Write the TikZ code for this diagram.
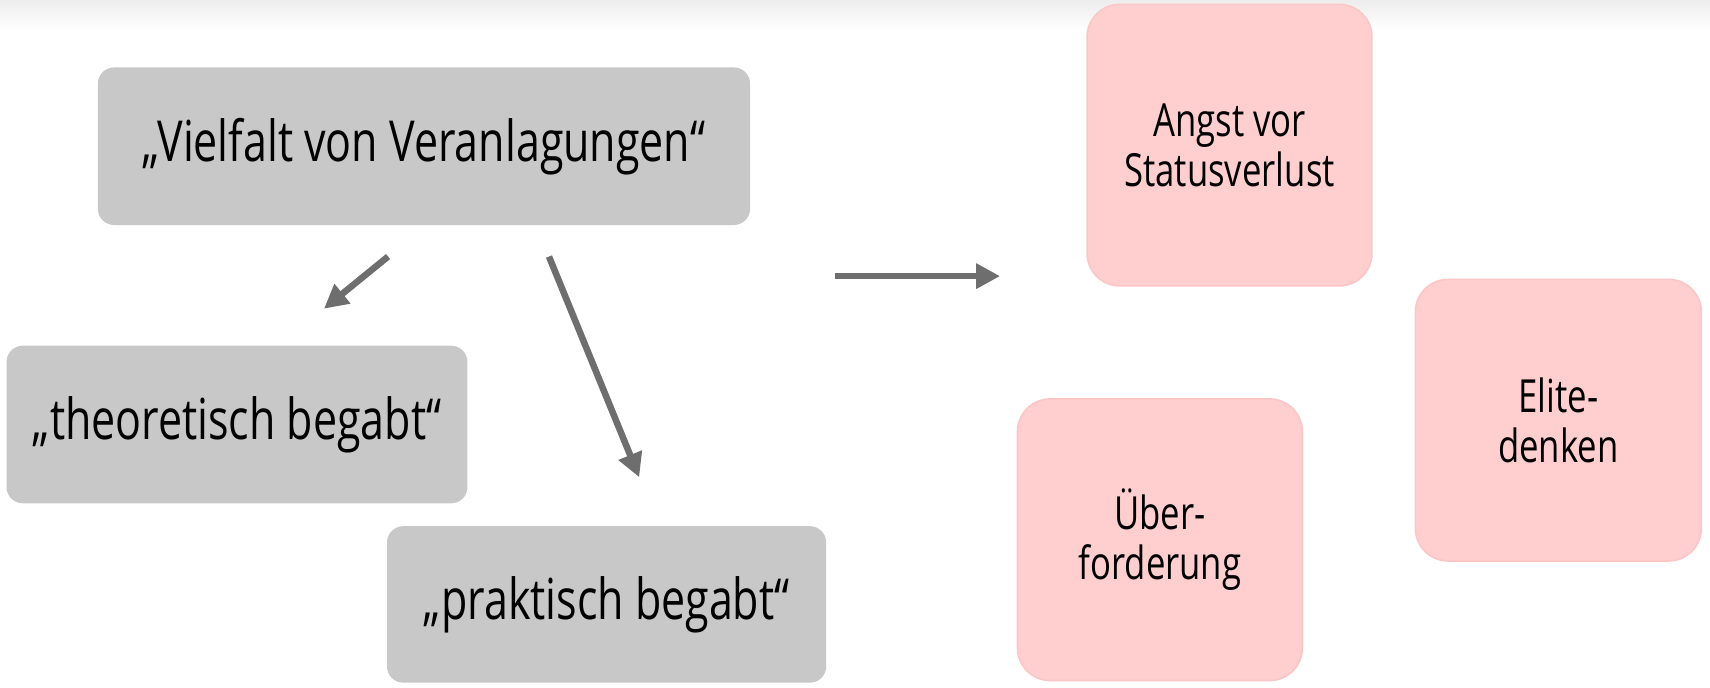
\documentclass[tikz,border=0pt]{standalone}
\usepackage{fontspec}
\setmainfont[FakeStretch=0.76]{Open Sans}
\usepackage{xcolor}
\usetikzlibrary{arrows.meta,positioning,calc}

\definecolor{boxgrey}{HTML}{C8C8C8}
\definecolor{boxpink}{HTML}{FFCFCF}
\definecolor{pinkline}{HTML}{FCC6C6}
\definecolor{arrowgrey}{HTML}{6E6E6E}

\begin{document}
\begin{tikzpicture}[x=1pt,y=-1pt,
	->,>={Triangle[length=22pt,width=22pt]},
	line width=6pt, draw=arrowgrey]

	\tikzstyle{grey box}=[rectangle, rounded corners=15pt,
	fill=boxgrey, draw=none, inner sep=0pt, text=black,
	font=\fontsize{52}{56}\selectfont]

	\tikzstyle{pink box}=[rectangle, rounded corners=30pt,
	minimum width=262pt, minimum height=259pt, inner sep=0pt,
	fill=boxpink, draw=pinkline, line width=1.5pt, text=black,
	align=center, font=\fontsize{42}{46}\selectfont]

	\useasboundingbox (0,0) rectangle (1573,632);
	\shade[top color=black!7, bottom color=white, draw=none] (0,0) rectangle (1573,28);

	%left side
	\node[grey box, minimum width=600pt, minimum height=145pt]
	(vielfalt) at (390,134.5)
	{„Vielfalt von Veranlagungen“};

	\node[grey box, minimum width=424pt, minimum height=145pt]
	(theo) at (218,390.5)
	{„theoretisch begabt“};

	\node[grey box, minimum width=404pt, minimum height=144pt]
	(prak) at (558,556)
	{„praktisch begabt“};

	%right side
	\node[pink box]
	(angst) at (1131,133.5)
	{Angst vor\\Statusverlust};

	\node[pink box]
	(ueber) at (1067,496.5)
	{Über-\\forderung};

	\node[pink box, minimum width=263pt]
	(elite) at (1433.5,386.5)
	{Elite-\\denken};

	\coordinate (out) at (768,254);
	\coordinate (in) at (920,254);

	\path[->] ([shift={(-33,26)}]vielfalt.south) edge ([shift={(80,-31)}]theo.north);
	\path[->] ([shift={(115,26)}]vielfalt.south) edge ([shift={(30,-42)}]prak.north);
	\path[->] (out) edge (in);

\end{tikzpicture}
\end{document}
